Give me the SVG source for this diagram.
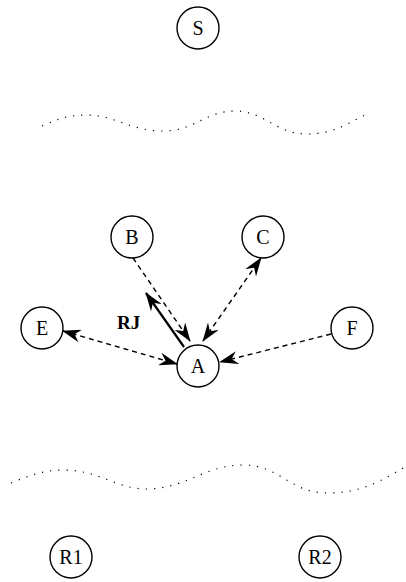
<svg xmlns="http://www.w3.org/2000/svg" width="406" height="582" viewBox="0 0 406 582">
<style>
.node circle{fill:#fff;stroke:#000;stroke-width:1.4}
.node text{font-family:"Liberation Serif",serif;font-size:20px;text-anchor:middle;fill:#000}
.dash{fill:none;stroke:#000;stroke-width:1.4;stroke-dasharray:5,4}
.solid{fill:none;stroke:#000;stroke-width:2.2}
.wave{fill:none;stroke:#000;stroke-width:1.2;stroke-dasharray:1.2,7}
.lbl{font-family:"Liberation Serif",serif;font-size:19px;font-weight:bold;fill:#000}
</style>
<defs>
<marker id="ah" viewBox="0 0 19 13" refX="18" refY="6.5" markerWidth="19" markerHeight="13" markerUnits="userSpaceOnUse" orient="auto-start-reverse">
<path d="M0,0 L19,6.5 L0,13 L6,6.5 z" fill="#000"/>
</marker>
</defs>
<g id="waves">
<path class="wave" d="M42,126 C60,118 70,115 87,115 C115,115 130,131 163,131 C195,131 205,111 235,111 C265,111 275,134 307,134 C335,134 350,122 367,114"/>
<path class="wave" d="M11,483 C30,475 45,470 63,470 C100,470 115,489 147,489 C185,489 205,465 243,465 C280,465 290,493 327,493 C365,493 385,478 405,467"/>
</g>
<g id="connectors">
<line class="dash" x1="133" y1="258" x2="190" y2="341" marker-end="url(#ah)"/>
<line class="solid" x1="184" y1="347" x2="146" y2="293" marker-end="url(#ah)"/>
<line class="dash" x1="203" y1="341" x2="261" y2="258" marker-start="url(#ah)" marker-end="url(#ah)"/>
<line class="dash" x1="63" y1="331" x2="177" y2="364" marker-start="url(#ah)" marker-end="url(#ah)"/>
<line class="dash" x1="331" y1="334" x2="220" y2="362" marker-end="url(#ah)"/>
<text class="lbl" x="117" y="329">RJ</text>
</g>
<g id="S" class="node"><circle cx="198" cy="28" r="21"/><text x="198" y="35">S</text></g>
<g id="B" class="node"><circle cx="132" cy="237" r="21"/><text x="132" y="244">B</text></g>
<g id="C" class="node"><circle cx="263" cy="237" r="21"/><text x="263" y="244">C</text></g>
<g id="E" class="node"><circle cx="42" cy="328" r="21"/><text x="42" y="335">E</text></g>
<g id="F" class="node"><circle cx="352" cy="328" r="21"/><text x="352" y="335">F</text></g>
<g id="A" class="node"><circle cx="198" cy="366" r="21"/><text x="198" y="373">A</text></g>
<g id="R1" class="node"><circle cx="71" cy="557" r="21"/><text x="71" y="564">R1</text></g>
<g id="R2" class="node"><circle cx="320" cy="557" r="21"/><text x="320" y="564">R2</text></g>
</svg>
